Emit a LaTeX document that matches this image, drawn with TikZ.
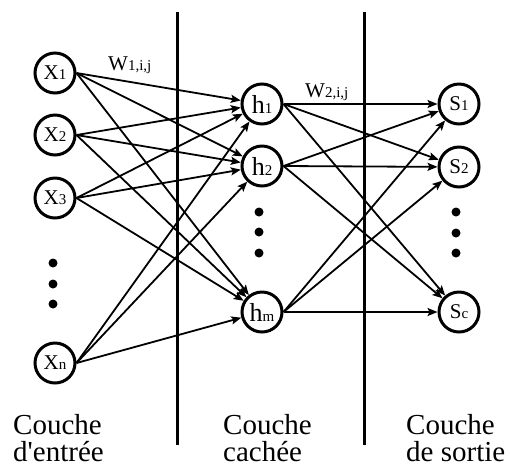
\documentclass[tikz,border=0pt]{standalone}
\usepackage{fontspec}
\setmainfont{Liberation Serif}
\usetikzlibrary{arrows.meta}
\newcommand\neurlab[3]{{\fontsize{#1}{#1}\selectfont #2}{\fontsize{15}{15}\selectfont #3}}
\begin{document}
\begin{tikzpicture}[x=1pt,y=-1pt,
 neuron/.style={circle,draw,line width=3pt,minimum size=40pt,inner sep=0pt},
 conn/.style={line width=1.8pt,-{Stealth[length=10pt,width=8pt,inset=2pt]}},
 sepline/.style={line width=3pt},
 dotnode/.style={circle,fill,inner sep=0pt,minimum size=9pt},
 lab/.style={font=\fontsize{29}{27}\selectfont,align=left,anchor=base west,inner sep=0pt},
 wlab/.style={anchor=base west,inner sep=0pt}]
\useasboundingbox (0,0) rectangle (510,467);
% separators
\coordinate (a1) at (177,12); \coordinate (a2) at (177,445);
\coordinate (b1) at (364,12); \coordinate (b2) at (364,445);
\draw[sepline] (a1) -- (a2);
\draw[sepline] (b1) -- (b2);
% neurons
\node[neuron] (x1) at (55,73) {\neurlab{21}{X}{1}};
\node[neuron] (x2) at (55,135) {\neurlab{21}{X}{2}};
\node[neuron] (x3) at (55,198) {\neurlab{21}{X}{3}};
\node[neuron] (xn) at (55,363) {\neurlab{21}{X}{n}};
\node[neuron] (h1) at (262,104) {\neurlab{26}{h}{1}};
\node[neuron] (h2) at (262,166) {\neurlab{26}{h}{2}};
\node[neuron] (hm) at (262,312) {\neurlab{26}{h}{m}};
\node[neuron] (s1) at (459,104) {\neurlab{21}{S}{1}};
\node[neuron] (s2) at (459,167) {\neurlab{21}{S}{2}};
\node[neuron] (sc) at (459,312) {\neurlab{21}{S}{c}};
% dots
\node[dotnode] (xd1) at (53,263) {};
\node[dotnode] (xd2) at (53,284) {};
\node[dotnode] (xd3) at (53,304) {};
\node[dotnode] (hd1) at (259,212) {};
\node[dotnode] (hd2) at (259,232) {};
\node[dotnode] (hd3) at (259,253) {};
\node[dotnode] (sd1) at (456,212) {};
\node[dotnode] (sd2) at (456,233) {};
\node[dotnode] (sd3) at (456,253) {};
% connections
\foreach \s in {x1,x2,x3,xn}
  \foreach \t in {h1,h2,hm}
    \draw[conn] (\s.east) -- (\t);
\foreach \s in {h1,h2,hm}
  \foreach \t in {s1,s2,sc}
    \draw[conn] (\s.east) -- (\t);
% weight labels
\node[wlab] (w1) at (108,70) {\neurlab{21}{W}{1,i,j}};
\node[wlab] (w2) at (305,97) {\neurlab{21}{W}{2,i,j}};
% layer labels
\node[lab] (lin) at (13,461) {Couche\\d\textquotesingle entrée};
\node[lab] (lhid) at (223,461) {Couche\\cachée};
\node[lab] (lout) at (406,461) {Couche\\de sortie};
\end{tikzpicture}
\end{document}
